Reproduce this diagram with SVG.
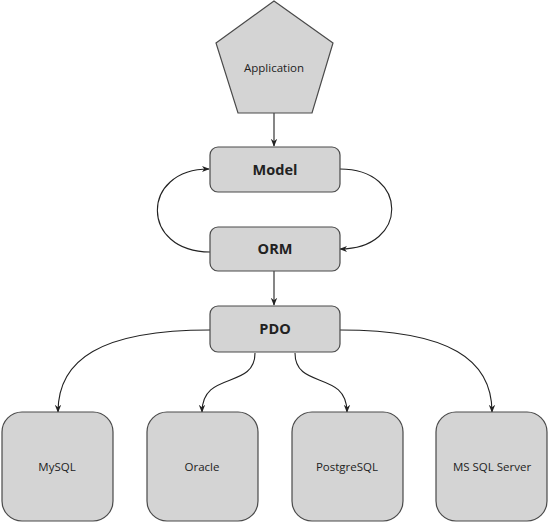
<svg xmlns="http://www.w3.org/2000/svg" width="549" height="523" viewBox="0 0 549 523">
<defs>
<style>
.n{fill:#d4d4d4;stroke:#4a4a4a;stroke-width:1.2}
.t{font-family:"Open Sans","Liberation Sans",sans-serif;font-size:11.5px;fill:#222;text-anchor:middle}
.b{font-family:"Open Sans","Liberation Sans",sans-serif;font-size:14.5px;font-weight:bold;fill:#222;text-anchor:middle}
.c{fill:none;stroke:#222;stroke-width:1.1;marker-end:url(#ah)}
</style>
<marker id="ah" viewBox="0 0 10 10" refX="9" refY="5" markerWidth="8" markerHeight="8" markerUnits="userSpaceOnUse" orient="auto">
<path d="M0,1 L10,5 L0,9 L3,5 Z" fill="#222"/>
</marker>
</defs>
<rect width="549" height="523" fill="#fff"/>
<g id="connectors">
<path class="c" d="M274,113 L274,146"/>
<path class="c" d="M210,252 C140,252 140,169 209,169"/>
<path class="c" d="M340,169 C409,169 409,249 340,249"/>
<path class="c" d="M274,271 L274,305"/>
<path class="c" d="M210,330 C100,330 58,360 58,412"/>
<path class="c" d="M340,330 C450,330 492,360 492,412"/>
<path class="c" d="M255,353 C255,390 202,370 202,412"/>
<path class="c" d="M295,353 C295,390 347,370 347,412"/>
</g>
<g id="application">
<polygon class="n" points="274,1 333,43 312,113 238,113 216,43"/>
<text class="t" x="274" y="72">Application</text>
</g>
<g id="model">
<rect class="n" x="210" y="147" width="130" height="45" rx="8"/>
<text class="b" x="275" y="175">Model</text>
</g>
<g id="orm">
<rect class="n" x="210" y="227" width="130" height="44" rx="8"/>
<text class="b" x="275" y="254">ORM</text>
</g>
<g id="pdo">
<rect class="n" x="210" y="306" width="130" height="46" rx="8"/>
<text class="b" x="275" y="334">PDO</text>
</g>
<g id="mysql">
<rect class="n" x="2" y="412" width="111" height="109" rx="20"/>
<text class="t" x="57" y="471">MySQL</text>
</g>
<g id="oracle">
<rect class="n" x="147" y="412" width="111" height="109" rx="20"/>
<text class="t" x="202" y="471">Oracle</text>
</g>
<g id="postgresql">
<rect class="n" x="292" y="412" width="111" height="109" rx="20"/>
<text class="t" x="347" y="471">PostgreSQL</text>
</g>
<g id="mssql">
<rect class="n" x="436" y="412" width="111" height="109" rx="20"/>
<text class="t" x="492" y="471">MS SQL Server</text>
</g>
</svg>
